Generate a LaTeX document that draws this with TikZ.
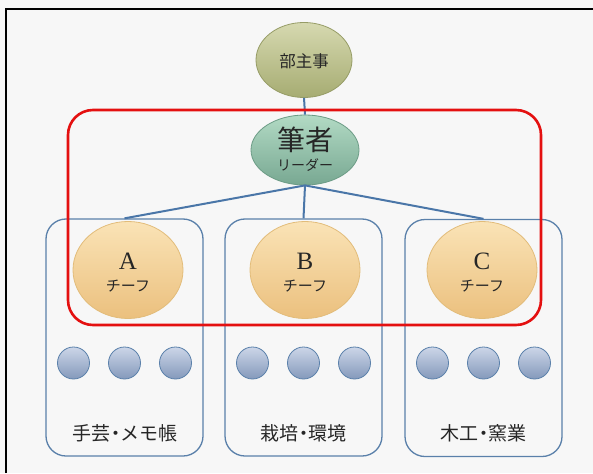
\documentclass[tikz,border=0pt]{standalone}
\usepackage{fontspec}
\newfontfamily\jp{Noto Sans CJK JP}
\setmainfont{Liberation Serif}
\usetikzlibrary{shapes.geometric}
\definecolor{bg}{HTML}{F7F7F7}
\definecolor{lnblue}{HTML}{4A76A8}
\definecolor{boxblue}{HTML}{5A80AA}
\definecolor{redline}{HTML}{E41010}
\definecolor{bossT}{HTML}{D6D9B0}
\definecolor{bossB}{HTML}{A6AC72}
\definecolor{bossD}{HTML}{969C66}
\definecolor{leadT}{HTML}{B2DAC4}
\definecolor{leadB}{HTML}{78A892}
\definecolor{leadD}{HTML}{6C9C86}
\definecolor{teamT}{HTML}{FAE3B6}
\definecolor{teamB}{HTML}{EBC07E}
\definecolor{teamD}{HTML}{E2BC7A}
\definecolor{memT}{HTML}{CCD6E8}
\definecolor{memB}{HTML}{8499BB}
\tikzset{
  oval/.style={ellipse, draw, inner sep=0pt, line width=0.8pt},
  bossoval/.style={oval, draw=bossD, top color=bossT, bottom color=bossB, minimum width=96pt, minimum height=75pt},
  leadoval/.style={oval, draw=leadD, top color=leadT, bottom color=leadB, minimum width=108pt, minimum height=70pt},
  teamoval/.style={oval, draw=teamD, top color=teamT, bottom color=teamB, minimum width=110pt, minimum height=97pt},
  member/.style={circle, draw=boxblue, line width=0.8pt, inner sep=0pt, minimum size=32pt, top color=memT, bottom color=memB},
  groupbox/.style={rectangle, draw=boxblue, line width=1.3pt, rounded corners=20pt, minimum width=157pt, minimum height=237pt},
  conn/.style={draw=lnblue, line width=2pt},
  txt/.style={inner sep=0pt, text=black!85},
}
\newcommand{\jdot}{\hspace{-0.22em}・\hspace{-0.22em}}
\begin{document}
\begin{tikzpicture}[x=1pt,y=-1pt]
\useasboundingbox (0,0) rectangle (593,473);
\fill[bg] (0,0) rectangle (593,473);
\coordinate (fl) at (6,473);
\coordinate (fc) at (6,9);
\coordinate (fr) at (593,9);
\draw[line width=2pt, black] (fl) -- (fc) -- (fr);

% group boxes
\node[groupbox] (boxA) at (124.5,337.5) {};
\node[groupbox] (boxB) at (303.5,337.5) {};
\node[groupbox] (boxC) at (483.5,338) {};

% top ellipses
\node[bossoval] (boss) at (304,60) {};
\node[leadoval] (lead) at (305,150) {};
\draw[conn] (boss.south) -- (lead.north);
\draw[conn] (lead.south) -- (boxA.north);
\draw[conn] (lead.south) -- (boxB.north);
\draw[conn] (lead.south) -- (boxC.north);

\node[txt, font=\jp\fontsize{16.5}{18}\selectfont] (bosst) at (304,61) {部主事};
\node[txt, font=\jp\fontsize{28}{30}\selectfont] (leadt) at (305,140) {筆者};
\node[txt, font=\jp\fontsize{14}{16}\selectfont] (leads) at (305,165) {リーダー};

% teams
\node[teamoval] (tA) at (128,270) {};
\node[teamoval] (tB) at (305,270) {};
\node[teamoval] (tC) at (482,270) {};
\foreach \n/\x/\l in {A/128/A, B/305/B, C/482/C}{
  \node[txt, font=\fontsize{25}{28}\selectfont] (t\n l) at (\x,261) {\l};
  \node[txt, font=\jp\fontsize{15}{17}\selectfont] (t\n s) at (\x,286) {チーフ};
}

% red frame
\node[draw=redline, line width=2.6pt, rounded corners=25pt, minimum width=473pt, minimum height=215pt, inner sep=0pt] (core) at (304.5,217.5) {};

% members
\foreach \n/\x in {A/124.5, B/303.5, C/483.5}{
  \node[member] (m\n1) at (\x-51,363) {};
  \node[member] (m\n2) at (\x,363) {};
  \node[member] (m\n3) at (\x+51,363) {};
}

% labels
\node[txt, font=\jp\fontsize{19}{21}\selectfont] (labA) at (125,433) {手芸\jdot メモ帳};
\node[txt, font=\jp\fontsize{19}{21}\selectfont] (labB) at (303.5,433) {栽培\jdot 環境};
\node[txt, font=\jp\fontsize{19}{21}\selectfont] (labC) at (483.5,433) {木工\jdot 窯業};
\end{tikzpicture}
\end{document}
